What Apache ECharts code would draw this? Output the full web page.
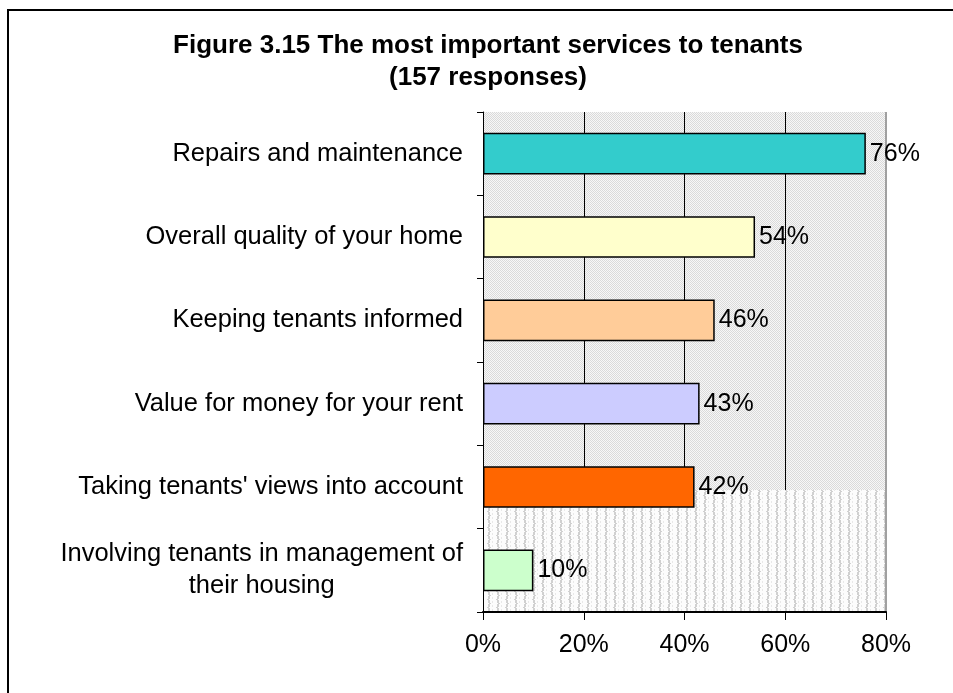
<!DOCTYPE html>
<html>
<head>
<meta charset="utf-8">
<style>
  html, body { margin: 0; padding: 0; background: #ffffff; }
  #chart { width: 953px; height: 693px; }
</style>
<script src="https://cdn.jsdelivr.net/npm/echarts@6/dist/echarts.min.js"></script>
</head>
<body>
<div id="chart"></div>
<script>
// Services ranked by share of tenants naming them most important
const categories = [
  'Repairs and maintenance',
  'Overall quality of your home',
  'Keeping tenants informed',
  'Value for money for your rent',
  "Taking tenants' views into account",
  'Involving tenants in management of\ntheir housing'
];
const percentages = [76, 54, 46, 43, 42, 10];
const barColors = ['#33CCCC', '#FFFFCC', '#FFCC99', '#CCCCFF', '#FF6600', '#CCFFCC'];
const tickValues = [0, 20, 40, 60, 80];

// Fine grey dither used as the plot background
function ditherPattern() {
  const c = document.createElement('canvas');
  c.width = 2; c.height = 2;
  const g = c.getContext('2d');
  g.fillStyle = '#f7f7f7'; g.fillRect(0, 0, 2, 2);
  g.fillStyle = '#dadada';
  g.fillRect(0, 0, 1, 1);
  g.fillRect(1, 1, 1, 1);
  return c;
}

// Wavy vertical stripes in the lower band of the plot
function stripePattern() {
  const c = document.createElement('canvas');
  c.width = 9; c.height = 8;
  const g = c.getContext('2d');
  g.fillStyle = '#fcfcfc'; g.fillRect(0, 0, 9, 8);
  g.fillStyle = '#d0d0d0';
  g.fillRect(2, 0, 2, 3);
  g.fillRect(3, 3, 2, 1);
  g.fillRect(2, 4, 2, 3);
  g.fillRect(1, 7, 2, 1);
  g.fillStyle = '#e8e8e8';
  g.fillRect(6, 1, 1, 2);
  g.fillRect(6, 5, 1, 2);
  return c;
}

const chart = echarts.init(document.getElementById('chart'), null, { renderer: 'canvas' });

const option = {
  backgroundColor: '#ffffff',
  animation: false,
  title: {
    text: 'Figure 3.15 The most important services to tenants\n(157 responses)',
    left: 483,
    top: 25,
    textAlign: 'center',
    textStyle: {
      fontFamily: 'Liberation Sans',
      fontSize: 26,
      fontWeight: 'bold',
      color: '#000000',
      lineHeight: 32
    }
  },
  grid: {
    left: 483,
    right: 67,
    top: 112,
    bottom: 81,
    show: true,
    borderWidth: 0,
    backgroundColor: { image: ditherPattern(), repeat: 'repeat' },
    containLabel: false
  },
  xAxis: {
    type: 'value',
    min: 0,
    max: 80,
    interval: 20,
    axisLine: { show: true, lineStyle: { color: '#000000', width: 2 } },
    axisTick: { show: true, length: 8, lineStyle: { color: '#000000', width: 1 } },
    axisLabel: {
      margin: 21,
      fontFamily: 'Liberation Sans',
      fontSize: 25,
      color: '#000000',
      formatter: v => tickValues.includes(v) ? v + '%' : ''
    },
    splitLine: { show: true, lineStyle: { color: '#000000', width: 1 } }
  },
  yAxis: {
    type: 'category',
    data: categories,
    inverse: true,
    axisLine: { show: true, lineStyle: { color: '#000000', width: 1 } },
    axisTick: { show: true, length: 6, lineStyle: { color: '#000000', width: 1 } },
    axisLabel: {
      margin: 20,
      fontFamily: 'Liberation Sans',
      fontSize: 25.5,
      color: '#000000',
      lineHeight: 32,
      align: 'right',
      formatter: v => '{t|' + v + '}',
      rich: {
        t: { align: 'center', fontFamily: 'Liberation Sans', fontSize: 25.5, lineHeight: 32, color: '#000000' }
      }
    },
    splitLine: { show: false }
  },
  series: [{
    type: 'bar',
    data: percentages.map((v, i) => ({ value: v, itemStyle: { color: barColors[i] } })),
    barWidth: '50%',
    itemStyle: { borderColor: '#000000', borderWidth: 1.5 },
    label: {
      show: true,
      position: 'right',
      distance: 4,
      formatter: p => p.value + '%',
      fontFamily: 'Liberation Sans',
      fontSize: 25,
      color: '#000000'
    },
    z: 3
  }]
};

chart.setOption(option);

// Lower band of striped background and the outer frame, placed from the axis scales
const gridRect = chart.getModel().getComponent('grid').coordinateSystem.getRect();
const bandTop = chart.convertToPixel({ yAxisIndex: 0 }, categories[4]);
chart.setOption({
  graphic: [
    {
      type: 'rect',
      z: 0,
      zlevel: 0,
      silent: true,
      shape: { x: gridRect.x + 1, y: bandTop + 3, width: gridRect.width - 1, height: gridRect.y + gridRect.height - bandTop - 3 },
      style: { fill: { image: stripePattern(), repeat: 'repeat' } }
    },
    {
      type: 'line',
      silent: true,
      z: 0,
      shape: { x1: gridRect.x + gridRect.width, y1: gridRect.y, x2: gridRect.x + gridRect.width, y2: gridRect.y + gridRect.height },
      style: { stroke: '#a0a0a0', lineWidth: 2 }
    },
    {
      type: 'rect',
      silent: true,
      shape: { x: 8, y: 10, width: 1200, height: 1000 },
      style: { fill: 'none', stroke: '#000000', lineWidth: 2 }
    }
  ]
});
</script>
</body>
</html>
